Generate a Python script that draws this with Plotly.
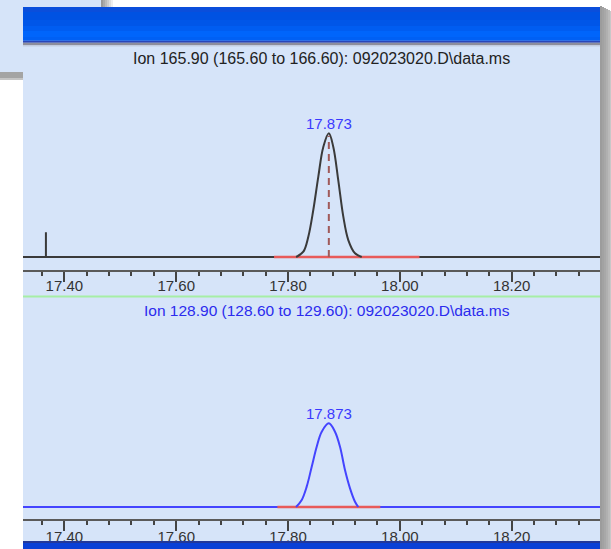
import plotly.graph_objects as go

W, H = 611, 549

# ---------------- data ----------------
retention_time = 17.873
peak_labels = ["17.873", "17.873"]

ion1_title = "Ion 165.90 (165.60 to 166.60): 092023020.D\\data.ms"
ion2_title = "Ion 128.90 (128.60 to 129.60): 092023020.D\\data.ms"

# Ion 165.90 - baseline with small spike
ion1_base_time = [17.30, 17.367, 17.367, 17.367, 18.40]
ion1_base_abund = [0, 0, 20, 0, 0]
# Ion 165.90 - peak
ion1_peak_time = [17.8145, 17.8274, 17.8363, 17.8452, 17.8542, 17.8631, 17.873,
                  17.8810, 17.8899, 17.8989, 17.9078, 17.9198, 17.9318]
ion1_peak_abund = [0, 4.3, 16.4, 38, 65, 89, 100, 89, 62, 32.6, 13.7, 3, 0]
ion1_integration = [17.775, 18.035]

# Ion 128.90 - baseline
ion2_base_time = [17.30, 18.40]
ion2_base_abund = [0, 0]
# Ion 128.90 - peak
ion2_peak_time = [17.8143, 17.8245, 17.8334, 17.8424, 17.8513, 17.8603, 17.873,
                  17.8840, 17.8930, 17.9019, 17.9109, 17.9198, 17.9257]
ion2_peak_abund = [0, 8.4, 24.3, 48.1, 72, 90, 100, 90, 72, 44.2, 22.3, 6.3, 0]
ion2_integration = [17.781, 17.965]

tick_values = [17.40, 17.60, 17.80, 18.00, 18.20]
tick_labels = ["17.40", "17.60", "17.80", "18.00", "18.20"]

# ---------------- helpers ----------------
def px(x):
    return x / W

def py(y):
    return 1 - y / H

shapes = []

def rect(x0, y0, x1, y1, color, layer="below"):
    shapes.append(dict(type="rect", xref="paper", yref="paper",
                       x0=px(x0), x1=px(x1), y0=py(y1), y1=py(y0),
                       fillcolor=color, line=dict(width=0), layer=layer))

def hline(x0, x1, y, color, width, layer="below"):
    shapes.append(dict(type="line", xref="paper", yref="paper",
                       x0=px(x0), x1=px(x1), y0=py(y), y1=py(y),
                       line=dict(color=color, width=width), layer=layer))

BG = "#d6e4f9"

# background window (top-left) + shadow
rect(0, 0, 101, 72, BG)
for i, c in enumerate(["#9a9a9a", "#aaaaaa", "#bbbbbb", "#cccccc", "#dddddd", "#eeeeee"]):
    rect(101 + i * 2, 0, 103 + i * 2, 80, c)
rect(0, 72, 101, 80, "#a4a4a4")
rect(0, 78, 101, 80, "#c4c4c4")

# main window body
rect(23, 40, 600, 541, BG)
# right shadow
for i, c in enumerate(["#9c9c9c", "#a2a2a2", "#a8a8a8", "#b0b0b0", "#bababa", "#c8c8c8"]):
    rect(600 + i * 2, 6 + i, 602 + i * 2, 549, c, layer="above")

# title bar gradient
bar = [(7, 12, "#0a4edb"), (12, 20, "#0052e2"), (20, 26, "#0056e8"),
       (26, 31, "#005df1"), (31, 37, "#0065fb"), (37, 40.7, "#0060f4"),
       (40.7, 42.7, "#2a46b8"), (42.7, 45, "#8e8e9c"), (45, 46.5, "#c4cde0")]
for y0, y1, c in bar:
    rect(23, y0, 600, y1, c, layer="above")

# bottom bar
rect(23, 541, 600, 543, "#22389a", layer="above")
rect(23, 543, 600, 549, "#0a40d6", layer="above")

# green separator
hline(23, 600, 296.5, "#a6eea6", 2)

# ---------------- figure ----------------
fig = go.Figure()

# Panel 1
fig.add_trace(go.Scatter(x=ion1_base_time, y=ion1_base_abund, mode="lines",
                         line=dict(color="#3a3a3a", width=2), xaxis="x", yaxis="y",
                         hoverinfo="skip"))
fig.add_trace(go.Scatter(x=ion1_integration, y=[0, 0], mode="lines",
                         line=dict(color="#e85a5a", width=2.5), xaxis="x", yaxis="y",
                         hoverinfo="skip"))
fig.add_trace(go.Scatter(x=ion1_peak_time, y=ion1_peak_abund, mode="lines",
                         line=dict(color="#3a3a3a", width=2, shape="spline", smoothing=1),
                         xaxis="x", yaxis="y", hoverinfo="skip"))
fig.add_trace(go.Scatter(x=[retention_time, retention_time], y=[0, max(ion1_peak_abund) * 0.98],
                         mode="lines", line=dict(color="#a05a5a", width=2, dash="7px,5px"),
                         xaxis="x", yaxis="y", hoverinfo="skip"))

# Panel 2
fig.add_trace(go.Scatter(x=ion2_base_time, y=ion2_base_abund, mode="lines",
                         line=dict(color="#4444ff", width=2), xaxis="x2", yaxis="y2",
                         hoverinfo="skip"))
fig.add_trace(go.Scatter(x=ion2_integration, y=[0, 0], mode="lines",
                         line=dict(color="#e85a5a", width=2.5), xaxis="x2", yaxis="y2",
                         hoverinfo="skip"))
fig.add_trace(go.Scatter(x=ion2_peak_time, y=ion2_peak_abund, mode="lines",
                         line=dict(color="#4444ff", width=2, shape="spline", smoothing=1),
                         xaxis="x2", yaxis="y2", hoverinfo="skip"))

FONT = "Arial, Liberation Sans, sans-serif"
xr = [17.326, 18.358]
xdom = [px(23), px(600)]

def xaxis_cfg(anchor, standoff):
    return dict(domain=xdom, range=xr, anchor=anchor, showgrid=False, zeroline=False,
                showline=True, linecolor="#5a5a5a", linewidth=2,
                ticks="outside", ticklen=10, tickwidth=2, tickcolor="#444444",
                tickvals=tick_values, ticktext=tick_labels, ticklabelstandoff=standoff,
                tickfont=dict(family=FONT, size=15, color="#333333"),
                minor=dict(dtick=0.04, tick0=17.40, ticks="outside", ticklen=4,
                           tickwidth=2, tickcolor="#444444", showgrid=False),
                fixedrange=True)

annotations = [
    dict(text=ion1_title, xref="paper", yref="paper", x=px(321), y=py(58),
         showarrow=False, xanchor="center", yanchor="middle",
         font=dict(family=FONT, size=16, color="#222222")),
    dict(text=ion2_title, xref="paper", yref="paper", x=px(327), y=py(310),
         showarrow=False, xanchor="center", yanchor="middle",
         font=dict(family=FONT, size=15.5, color="#2b2bee")),
    dict(text=peak_labels[0], xref="x", yref="y", x=retention_time, y=max(ion1_peak_abund),
         showarrow=False, xanchor="center", yanchor="bottom", yshift=-1,
         font=dict(family=FONT, size=15, color="#3a3aff")),
    dict(text=peak_labels[1], xref="x2", yref="y2", x=retention_time, y=max(ion2_peak_abund),
         showarrow=False, xanchor="center", yanchor="bottom", yshift=-1,
         font=dict(family=FONT, size=15, color="#3a3aff")),
]

fig.update_layout(
    width=W, height=H, margin=dict(l=0, r=0, t=0, b=0),
    paper_bgcolor="white", plot_bgcolor="rgba(0,0,0,0)",
    showlegend=False,
    xaxis=xaxis_cfg("y", -9),
    yaxis=dict(domain=[py(270), py(70)], range=[-10.51, 151.2], visible=False, fixedrange=True),
    xaxis2=xaxis_cfg("y2", -7),
    yaxis2=dict(domain=[py(519.3), py(330)], range=[-14.7, 211.5], visible=False, fixedrange=True),
    shapes=shapes,
    annotations=annotations,
)

fig.write_html("out.html", config={"displayModeBar": False},
               post_script="document.body.style.margin='0';document.body.style.padding='0';"
                           "document.body.style.overflow='hidden';")
